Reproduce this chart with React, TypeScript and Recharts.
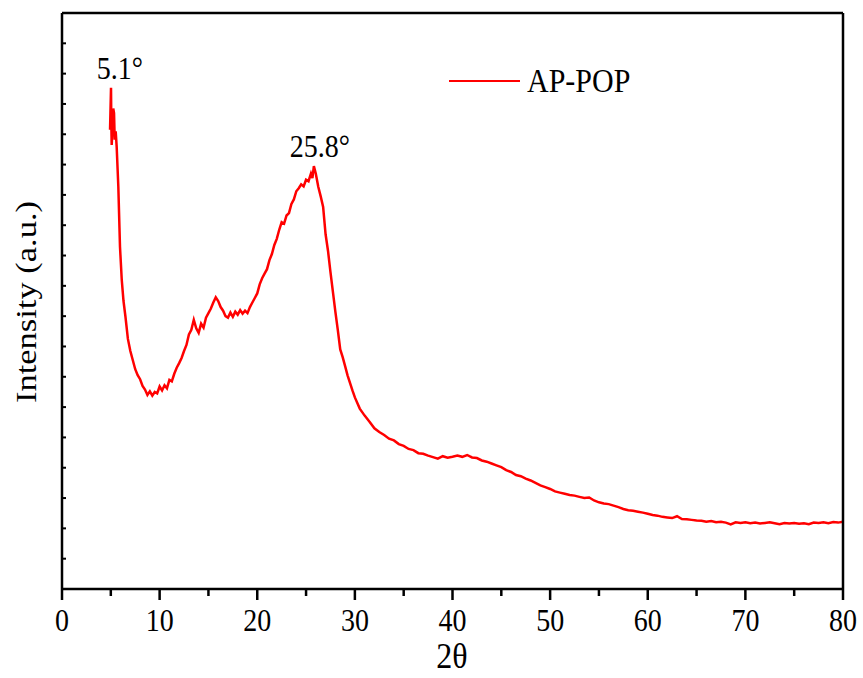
import { LineChart, Line, XAxis, YAxis, ReferenceDot } from "recharts";

// 2θ positions (degrees) and intensity (a.u.)
const twoTheta = [
  4.92, 4.96, 5.02, 5.05, 5.09, 5.17, 5.25, 5.33, 5.4, 5.5,
  5.6, 5.77, 5.94, 6.12, 6.3, 6.5, 6.75, 7.0,
  7.5, 7.75, 8, 8.25, 8.5, 8.75, 9, 9.25, 9.5, 9.75,
  10, 10.25, 10.5, 10.75, 11, 11.25, 11.5, 11.75, 12, 12.25,
  12.5, 12.75, 13, 13.25, 13.5, 13.75, 14, 14.25, 14.5, 14.75,
  15, 15.25, 15.5, 15.75, 16, 16.25, 16.5, 16.75, 17, 17.25,
  17.5, 17.75, 18, 18.25, 18.5, 18.75, 19, 19.25, 19.5, 19.75,
  20, 20.25, 20.5, 20.75, 21, 21.25, 21.5, 21.75, 22, 22.25,
  22.5, 22.75, 23, 23.25, 23.5, 23.75, 24, 24.25, 24.5, 24.75,
  25, 25.25, 25.5, 25.65, 25.8, 26, 26.25, 26.5, 26.75, 27,
  27.25, 27.5, 27.75, 28, 28.25, 28.5, 28.75, 29, 29.25, 29.5,
  29.75, 30, 30.5, 31, 31.5,
  32, 32.5, 33, 33.5, 34, 34.5, 35, 35.5, 36, 36.5,
  37, 37.5, 38, 38.5, 39, 39.5, 40, 40.5, 41, 41.5,
  42, 42.5, 43, 43.5, 44, 44.5, 45, 45.5, 46, 46.5,
  47, 47.5, 48, 48.5, 49, 49.5, 50, 50.5, 51, 51.5,
  52, 52.5, 53, 53.5, 54, 54.5, 55, 55.5, 56, 56.5,
  57, 57.5, 58, 58.5, 59, 59.5, 60, 60.5, 61, 61.5,
  62, 62.5, 63, 63.5, 64, 64.5, 65, 65.5, 66, 66.5,
  67, 67.5, 68, 68.5, 69, 69.5, 70, 70.5, 71, 71.5,
  72, 72.5, 73, 73.5, 74, 74.5, 75, 75.5, 76, 76.5,
  77, 77.5, 78, 78.5, 79, 79.5, 80,
];

const intensity = [
  15.15, 15.7, 16.53, 15.4, 14.65, 15.2, 15.85, 15.7, 14.82, 15.1,
  14.59, 13.27, 11.29, 10.2, 9.5, 8.98, 8.25, 7.85,
  7.25, 7.05, 6.92, 6.7, 6.58, 6.4, 6.52, 6.38, 6.5, 6.45,
  6.68, 6.55, 6.72, 6.62, 6.9, 6.85, 7.1, 7.3, 7.45, 7.62,
  7.85, 8.05, 8.4, 8.55, 8.88, 8.6, 8.45, 8.75, 8.62, 8.95,
  9.1, 9.25, 9.45, 9.62, 9.5, 9.3, 9.18, 9.0, 8.95, 9.12,
  8.98, 9.15, 9.05, 9.2, 9.08, 9.18, 9.1, 9.3, 9.45, 9.6,
  9.75, 10.05, 10.25, 10.4, 10.55, 10.85, 11.05, 11.35, 11.55, 11.85,
  12.1, 12.05, 12.32, 12.4, 12.7, 12.85, 13.12, 13.22, 13.35, 13.28,
  13.5, 13.45, 13.7, 13.55, 13.95, 13.7, 13.27, 12.95, 12.6, 11.7,
  11.15, 10.45, 9.8, 9.15, 8.55, 7.9, 7.65, 7.35, 7.05, 6.8,
  6.55, 6.32, 5.95, 5.72, 5.52,
  5.3, 5.18, 5.08, 4.96, 4.9, 4.78, 4.72, 4.62, 4.58, 4.48,
  4.46, 4.4, 4.35, 4.3, 4.38, 4.33, 4.36, 4.4, 4.36, 4.42,
  4.34, 4.32, 4.24, 4.2, 4.14, 4.08, 4.02, 3.92, 3.86, 3.76,
  3.72, 3.64, 3.58, 3.5, 3.42, 3.36, 3.3, 3.22, 3.18, 3.14,
  3.1, 3.08, 3.04, 3.0, 3.02, 2.92, 2.86, 2.82, 2.8, 2.75,
  2.7, 2.64, 2.6, 2.58, 2.55, 2.52, 2.48, 2.44, 2.42, 2.38,
  2.36, 2.34, 2.4, 2.31, 2.3, 2.28, 2.26, 2.25, 2.22, 2.24,
  2.2, 2.22, 2.19, 2.13, 2.2, 2.18, 2.2, 2.17, 2.19, 2.16,
  2.18, 2.2, 2.17, 2.14, 2.18, 2.16, 2.18, 2.15, 2.17, 2.14,
  2.19, 2.18, 2.2, 2.17, 2.21, 2.19, 2.22,
];

const xTicks = [0, 5, 10, 15, 20, 25, 30, 35, 40, 45, 50, 55, 60, 65, 70, 75, 80];
const yTicks = [0, 1, 2, 3, 4, 5, 6, 7, 8, 9, 10, 11, 12, 13, 14, 15, 16, 17, 18, 19];
const peaks = [
  { x: 5.1, y: 16.53, label: "5.1°", dx: 8 },
  { x: 25.8, y: 13.95, label: "25.8°", dx: 6 },
];
const seriesName = "AP-POP";

const data = twoTheta.map((t, i) => ({ t, v: intensity[i] }));

const FONT = "'Liberation Serif', 'Times New Roman', serif";

function SText({ x, y, size = 28, anchor = "middle", rotate = false, children }: any) {
  const tf = rotate
    ? `translate(${x} ${y}) rotate(-90) scale(1.15 1)`
    : `translate(${x} ${y}) scale(1 1.15)`;
  return (
    <text transform={tf} x={0} y={0} textAnchor={anchor} fontSize={size} fontFamily={FONT} fill="#000">
      {children}
    </text>
  );
}

const BottomTick = (props: any) => {
  const { x, y, payload } = props;
  const major = payload.value % 10 === 0;
  return (
    <g>
      <line x1={x} x2={x} y1={y} y2={y + (major ? 11 : 7)} stroke="#000" strokeWidth={2.5} />
      {major && <SText x={x} y={y + 42}>{payload.value}</SText>}
    </g>
  );
};

const LeftTick = (props: any) => {
  const { x, y } = props;
  return <line x1={x} x2={x + 4} y1={y} y2={y} stroke="#000" strokeWidth={2} />;
};

export default function App() {
  return (
    <div style={{ position: "absolute", left: 0, top: 0, width: 863, height: 678 }}>
      <LineChart width={863} height={678} data={data} margin={{ top: 0, right: 0, bottom: 0, left: 0 }}>
        <XAxis
          dataKey="t"
          type="number"
          domain={[0, 80]}
          ticks={xTicks}
          interval={0}
          height={89}
          tickSize={0}
          tickMargin={0}
          tickLine={false}
          tick={<BottomTick />}
          axisLine={{ stroke: "#000", strokeWidth: 2.5 }}
          label={{ content: () => <SText x={452} y={668} size={32}>2θ</SText> }}
        />
        <XAxis
          xAxisId="top"
          orientation="top"
          type="number"
          domain={[0, 80]}
          ticks={xTicks}
          interval={0}
          height={13}
          tickSize={4}
          tick={false}
          tickLine={{ stroke: "#000", strokeWidth: 2 }}
          axisLine={{ stroke: "#000", strokeWidth: 2.5 }}
        />
        <YAxis
          type="number"
          domain={[0, 19]}
          ticks={yTicks}
          interval={0}
          width={62}
          tickSize={0}
          tickMargin={0}
          tickLine={false}
          tick={<LeftTick />}
          axisLine={{ stroke: "#000", strokeWidth: 2.5 }}
          label={{
            content: () => (
              <SText x={36} y={302} size={30} rotate>
                Intensity (a.u.)
              </SText>
            ),
          }}
        />
        <YAxis
          yAxisId="right"
          orientation="right"
          type="number"
          domain={[0, 19]}
          ticks={yTicks}
          interval={0}
          width={20}
          tickSize={4}
          tick={false}
          tickLine={{ stroke: "#000", strokeWidth: 2 }}
          axisLine={{ stroke: "#000", strokeWidth: 2.5 }}
        />
        <Line
          type="linear"
          dataKey="v"
          name={seriesName}
          stroke="#ff0000"
          strokeWidth={2.5}
          strokeLinejoin="miter"
          dot={false}
          isAnimationActive={false}
        />
        {peaks.map((p) => (
          <ReferenceDot
            key={p.label}
            x={p.x}
            y={p.y}
            r={0.01}
            fill="none"
            stroke="none"
            label={{
              content: (lp: any) => {
                const vb = lp.viewBox || {};
                return (
                  <SText x={(vb.x ?? 0) + p.dx} y={(vb.y ?? 0) - 9}>
                    {p.label}
                  </SText>
                );
              },
            }}
          />
        ))}
      </LineChart>
      <svg width={220} height={40} style={{ position: "absolute", left: 440, top: 62 }}>
        <line x1={9} x2={80} y1={19} y2={19} stroke="#ff0000" strokeWidth={2.2} />
        <SText x={87} y={30} size={30} anchor="start">
          {seriesName}
        </SText>
      </svg>
    </div>
  );
}
